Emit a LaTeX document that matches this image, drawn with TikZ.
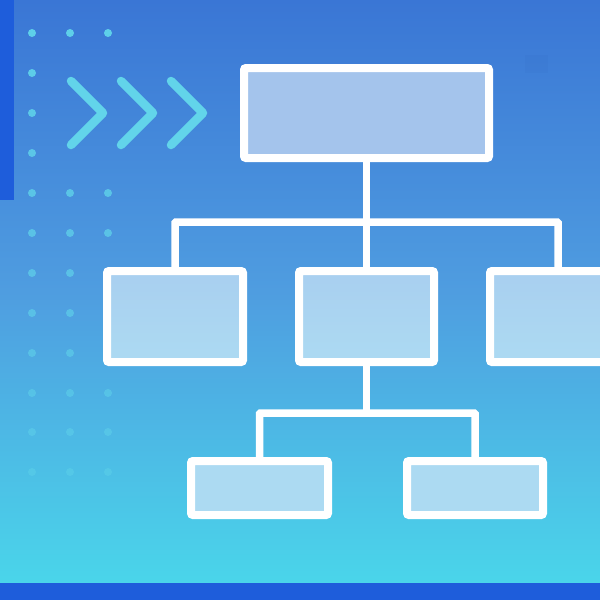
\documentclass[tikz,border=0pt]{standalone}
\begin{document}
\begin{tikzpicture}[x=1pt,y=-1pt,
  box/.style={draw=white,line width=8pt,rounded corners=2pt,rectangle,inner sep=0pt,outer sep=0pt},
  conn/.style={draw=white,line width=7.5pt},
  dot/.style={fill=dotc},
  chev/.style={draw=chevc,line width=8.5pt,line cap=round,line join=round}]
\definecolor{bgtop}{HTML}{3A76D5}
\definecolor{bgmid}{HTML}{4F9DE0}
\definecolor{bgbot}{HTML}{4AD5EA}
\definecolor{barc}{HTML}{1E5DDB}
\definecolor{dotc}{HTML}{60D4EA}
\definecolor{chevc}{HTML}{62D4EA}
\definecolor{fillA}{HTML}{A4C4EC}
\definecolor{fillB}{HTML}{A9D0F0}
\definecolor{fillC}{HTML}{ACDAF2}
\useasboundingbox (0,0) rectangle (600,600);
\clip (0,0) rectangle (600,600);
% background
\shade[top color=bgtop,bottom color=bgbot,middle color=bgmid] (0,0) rectangle (600,583);
\fill[barc] (0,0) rectangle (14,200);
\fill[barc] (0,583) rectangle (600,600);
\fill[bgtop!92!black,opacity=0.15] (525,55) rectangle (548,73);
% dots
\foreach \y/\cols in {33/{32,70,108},73/{32},113/{32},153/{32},193/{32,70,108},233/{32,70,108},273/{32,70},313/{32,70},353/{32,70},393/{32,70,108},432/{32,70,108},472/{32,70,108}}{
  \pgfmathsetmacro{\op}{1-0.0012*\y}
  \foreach \x in \cols { \fill[dotc,opacity=\op] (\x,\y) circle (4); }
}
% chevrons
\foreach \dx in {0,50,100}{
  \draw[chev] (71+\dx,81) -- (103+\dx,113) -- (71+\dx,145);
}
% org chart
\node[box,fill=fillA,minimum width=245,minimum height=90] (top) at (366.5,113) {};
\node[box,top color=fillB!92!fillA,bottom color=fillC,minimum width=136,minimum height=91] (midL) at (175,316.5) {};
\node[box,top color=fillB!92!fillA,bottom color=fillC,minimum width=135,minimum height=91] (midC) at (366.5,316.5) {};
\node[box,top color=fillB!92!fillA,bottom color=fillC,minimum width=136,minimum height=91] (midR) at (558,316.5) {};
\node[box,fill=fillC,minimum width=137,minimum height=54] (botL) at (259.5,488) {};
\node[box,fill=fillC,minimum width=136,minimum height=54] (botR) at (475,488) {};
\coordinate (j1) at (366.5,222);
\coordinate (j2) at (366.5,413);
\draw[conn] (top.south) -- (j1);
\draw[conn,rounded corners=1pt] (midL.north) |- (j1) -| (midR.north);
\draw[conn] (j1) -- (midC.north);
\draw[conn] (midC.south) -- (j2);
\draw[conn,rounded corners=1pt] (botL.north) |- (j2) -| (botR.north);
\end{tikzpicture}
\end{document}
